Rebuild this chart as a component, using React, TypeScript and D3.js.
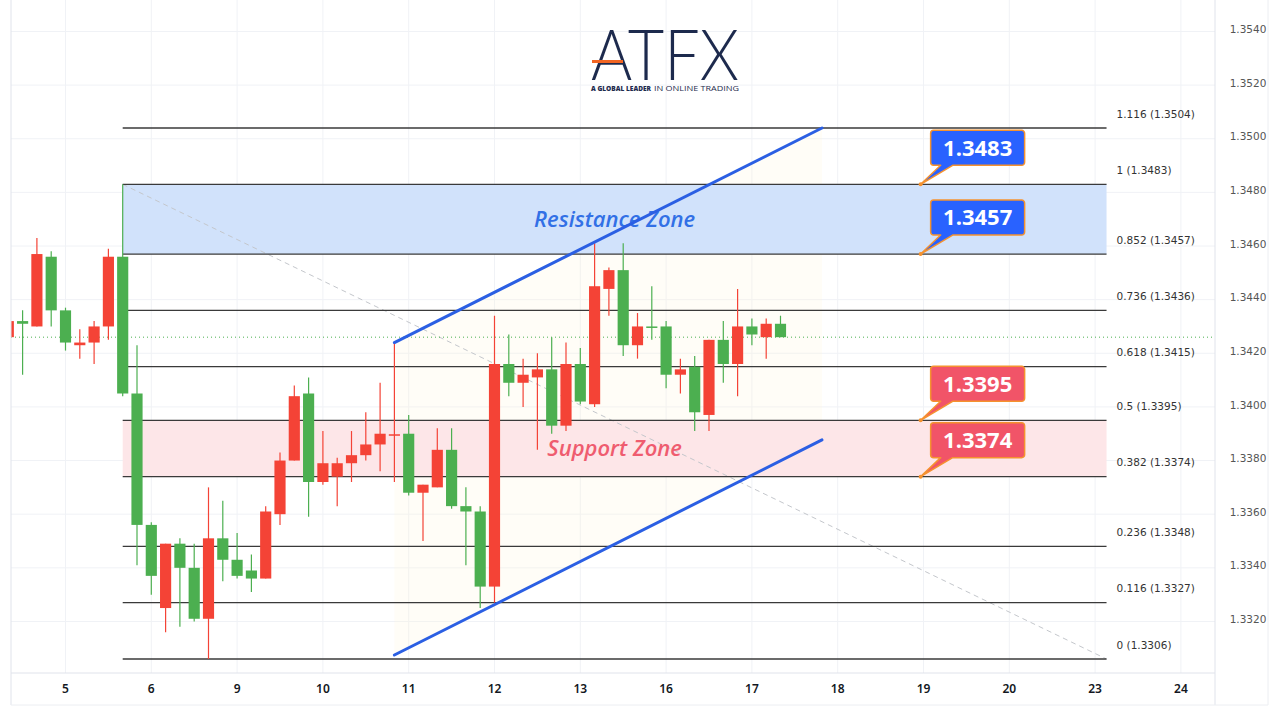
import React from 'react';
import * as d3 from 'd3';

// 4H candles (bar index 0 = last visible bar of day 4)
const opens = [1.3426, 1.3432, 1.3430, 1.3456, 1.3436, 1.3423, 1.3424, 1.3430, 1.3456, 1.3405,
  1.3356, 1.3325, 1.3349, 1.3340, 1.3321, 1.3351, 1.3343, 1.3339, 1.3336, 1.3360,
  1.3380, 1.3405, 1.3372, 1.3374, 1.3379, 1.3382, 1.3386, 1.33893, 1.3390, 1.3368,
  1.3370, 1.3384, 1.3363, 1.3361, 1.3333, 1.3416, 1.3409, 1.3411, 1.3414, 1.3393,
  1.3416, 1.3401, 1.3444, 1.3451, 1.3423, 1.3430, 1.3430, 1.3412, 1.3415, 1.3397,
  1.3425, 1.3416, 1.3430, 1.3426, 1.3431];
const highs = [1.3432, 1.3436, 1.3463, 1.3458, 1.3437, 1.3429, 1.3432, 1.3459, 1.3483, 1.3423,
  1.3357, 1.3349, 1.3351, 1.3349, 1.3370, 1.3365, 1.3353, 1.3345, 1.3363, 1.3383,
  1.3408, 1.3411, 1.3391, 1.3381, 1.3391, 1.3398, 1.3409, 1.3424, 1.3397, 1.3371,
  1.3392, 1.3392, 1.3370, 1.3363, 1.3434, 1.3427, 1.3418, 1.3420, 1.3426, 1.3424,
  1.3422, 1.3461, 1.3452, 1.3461, 1.3435, 1.3445, 1.3432, 1.3418, 1.3419, 1.3425,
  1.3432, 1.3444, 1.3433, 1.3433, 1.3434];
const lows = [1.3426, 1.3412, 1.3430, 1.3430, 1.3421, 1.3418, 1.3416, 1.3425, 1.3404, 1.3341,
  1.3330, 1.3316, 1.3318, 1.3320, 1.3306, 1.3335, 1.3336, 1.3331, 1.3336, 1.3356,
  1.3380, 1.3359, 1.3371, 1.3363, 1.3372, 1.3380, 1.3376, 1.3372, 1.3367, 1.3350,
  1.3370, 1.3362, 1.3341, 1.3325, 1.3327, 1.3404, 1.3400, 1.3384, 1.3390, 1.3391,
  1.3401, 1.3400, 1.3434, 1.3419, 1.3418, 1.3425, 1.3407, 1.3405, 1.3391, 1.3391,
  1.3409, 1.3404, 1.3423, 1.3418, 1.3426];
const closes = [1.3432, 1.3431, 1.3457, 1.3436, 1.3424, 1.3424, 1.3430, 1.3456, 1.3405, 1.3356,
  1.3337, 1.3349, 1.3340, 1.3321, 1.3351, 1.3343, 1.3337, 1.3336, 1.3361, 1.3380,
  1.3404, 1.3372, 1.3379, 1.3379, 1.3382, 1.3386, 1.3390, 1.33898, 1.3368, 1.3371,
  1.3384, 1.3363, 1.3361, 1.3333, 1.3416, 1.3409, 1.3412, 1.3414, 1.3393, 1.3416,
  1.3402, 1.3445, 1.3451, 1.3423, 1.3430, 1.34295, 1.3412, 1.3414, 1.3398, 1.3425,
  1.3416, 1.3430, 1.3427, 1.3431, 1.3426];

const dayLabels = ['5', '6', '9', '10', '11', '12', '13', '16', '17', '18', '19', '20', '23', '24'];
const firstDayBar = 4;
const barsPerDay = 6;

const priceTicks = [1.332, 1.334, 1.336, 1.338, 1.34, 1.342, 1.344, 1.346, 1.348, 1.35, 1.352, 1.354];
const lastPrice = 1.3426;

const fibRatios = ['0', '0.116', '0.236', '0.382', '0.5', '0.618', '0.736', '0.852', '1', '1.116'];
const fibPrices = [1.3306, 1.3327, 1.3348, 1.3374, 1.3395, 1.3415, 1.3436, 1.3457, 1.3483, 1.3504];
const fibBars = [8, 76.8];
const fibTrendPrices = [1.3483, 1.3306];

const resistanceZone = [1.3457, 1.3483];
const supportZone = [1.3374, 1.3395];
const zoneTextBar = 42.4;

const channelBars = [27, 56.9];
const channelUpper = [1.3424, 1.3504];
const channelLower = [1.33075, 1.33877];

const calloutBar = 63.8;
const calloutPrices = [1.3483, 1.3457, 1.3395, 1.3374];
const calloutKinds = ['res', 'res', 'sup', 'sup'];

const UP = '#f44336';
const DOWN = '#4caf50';

export default function App() {
  const W = 1280;
  const H = 720;
  const paneLeft = 11;
  const paneRight = 1215;
  const paneBottom = 673;
  const axisBottom = 705;
  const frameRight = 1268;

  const x = d3.scaleLinear().domain([4, 82]).range([65.5, 1180.9]);
  const y = d3.scaleLinear().domain([1.3306, 1.3504]).range([659, 128]);
  const step = x(1) - x(0);
  const bodyW = step * 0.78;

  const fmt = d3.format('.4f');
  const line = d3.line<[number, number]>().x((d) => x(d[0])).y((d) => y(d[1]));

  const fibX0 = x(fibBars[0]);
  const fibX1 = x(fibBars[1]);

  const channelFill =
    `M${x(channelBars[0])},${y(channelUpper[0])} L${x(channelBars[1])},${y(channelUpper[1])} ` +
    `L${x(channelBars[1])},${y(channelLower[1])} L${x(channelBars[0])},${y(channelLower[0])} Z`;

  const calloutPath = (ax: number, ay: number) => {
    const L = ax + 10;
    const R = L + 94;
    const B = ay - 19;
    const T = B - 35;
    const r = 3;
    return `M${L + r},${T} H${R - r} A${r},${r} 0 0 1 ${R},${T + r} V${B - r} A${r},${r} 0 0 1 ${R - r},${B} ` +
      `H${L + 22} L${ax},${ay} L${L + 10},${B} H${L + r} A${r},${r} 0 0 1 ${L},${B - r} V${T + r} A${r},${r} 0 0 1 ${L + r},${T} Z`;
  };

  return (
    <div style={{ position: 'absolute', left: 0, top: 0 }}>
      <svg width={W} height={H} style={{ display: 'block', background: '#ffffff' }}>
        <defs>
          <clipPath id="pane">
            <rect x={paneLeft} y={0} width={paneRight - paneLeft} height={paneBottom} />
          </clipPath>
        </defs>

        {/* grid */}
        <g>
          {priceTicks.map((t) => (
            <line key={'h' + t} x1={paneLeft} x2={paneRight} y1={y(t)} y2={y(t)} stroke="#f0f2f6" strokeWidth={1} />
          ))}
          {dayLabels.map((d, i) => {
            const xx = x(firstDayBar + i * barsPerDay);
            return <line key={'v' + d} x1={xx} x2={xx} y1={0} y2={paneBottom} stroke="#f0f2f6" strokeWidth={1} />;
          })}
        </g>

        <g clipPath="url(#pane)">
          {/* channel fill */}
          <path d={channelFill} fill="#fff6dc" fillOpacity={0.22} />

          {/* zones */}
          <rect x={fibX0} width={fibX1 - fibX0} y={y(resistanceZone[1])} height={y(resistanceZone[0]) - y(resistanceZone[1])} fill="#d1e2fb" />
          <rect x={fibX0} width={fibX1 - fibX0} y={y(supportZone[1])} height={y(supportZone[0]) - y(supportZone[1])} fill="#fde6e8" />

          {/* fib trend line */}
          <path d={line([[fibBars[0], fibTrendPrices[0]], [fibBars[1], fibTrendPrices[1]]]) || ''} stroke="#c4c7cc" strokeWidth={1} strokeDasharray="5,4" fill="none" />

          {/* fib levels */}
          {fibPrices.map((p, i) => (
            <line key={'f' + i} x1={fibX0} x2={fibX1} y1={y(p)} y2={y(p)} stroke="#3a3a3a" strokeWidth={1.3} />
          ))}

          {/* zone texts */}
          <text x={x(zoneTextBar)} y={y((resistanceZone[0] + resistanceZone[1]) / 2)} dy="0.35em" textAnchor="middle"
            fontFamily="'Open Sans', sans-serif" fontStyle="italic" fontWeight={600} fontSize={22} fill="#3270e6">Resistance Zone</text>
          <text x={x(zoneTextBar)} y={y((supportZone[0] + supportZone[1]) / 2)} dy="0.35em" textAnchor="middle"
            fontFamily="'Open Sans', sans-serif" fontStyle="italic" fontWeight={600} fontSize={22} fill="#ef5c6f">Support Zone</text>

          {/* last price line */}
          <line x1={paneLeft} x2={paneRight} y1={y(lastPrice)} y2={y(lastPrice)} stroke={DOWN} strokeWidth={1} strokeDasharray="1,3" />

          {/* candles */}
          {opens.map((o, i) => {
            const c = closes[i];
            const up = c >= o;
            const col = up ? UP : DOWN;
            const cx = x(i);
            const top = y(Math.max(o, c));
            const bot = y(Math.min(o, c));
            const h = Math.max(1.5, bot - top);
            return (
              <g key={'c' + i}>
                <line x1={cx} x2={cx} y1={y(highs[i])} y2={y(lows[i])} stroke={col} strokeWidth={1.2} />
                <rect x={cx - bodyW / 2} y={top} width={bodyW} height={h} fill={col} />
              </g>
            );
          })}

          {/* channel lines */}
          <path d={line([[channelBars[0], channelUpper[0]], [channelBars[1], channelUpper[1]]]) || ''} stroke="#2b5fe3" strokeWidth={3} fill="none" strokeLinecap="round" />
          <path d={line([[channelBars[0], channelLower[0]], [channelBars[1], channelLower[1]]]) || ''} stroke="#2b5fe3" strokeWidth={3} fill="none" strokeLinecap="round" />
        </g>

        {/* fib labels */}
        {fibPrices.map((p, i) => (
          <text key={'fl' + i} x={fibX1 + 10} y={y(p) - 14} dy="0.35em" fontFamily="'DejaVu Sans', sans-serif" fontSize={10.5} fill="#333">
            {`${fibRatios[i]} (${fmt(p)})`}
          </text>
        ))}

        {/* callouts */}
        {calloutPrices.map((p, i) => {
          const ax = x(calloutBar);
          const ay = y(p);
          const fill = calloutKinds[i] === 'res' ? '#2962ff' : '#f15468';
          return (
            <g key={'co' + i}>
              <path d={calloutPath(ax, ay)} fill={fill} stroke="#f5922f" strokeWidth={1.5} strokeLinejoin="round" />
              <circle cx={ax} cy={ay} r={2} fill="#f5922f" />
              <text x={ax + 10 + 47} y={ay - 19 - 17.5} dy="0.36em" textAnchor="middle" fontFamily="'Open Sans', sans-serif"
                fontWeight={700} fontSize={22} fill="#ffffff">{fmt(p)}</text>
            </g>
          );
        })}

        {/* frame & axes */}
        <line x1={paneLeft} x2={paneLeft} y1={0} y2={axisBottom} stroke="#e0e3eb" />
        <line x1={paneRight} x2={paneRight} y1={0} y2={axisBottom} stroke="#e0e3eb" />
        <line x1={frameRight} x2={frameRight} y1={0} y2={axisBottom} stroke="#eceef2" />
        <line x1={paneLeft} x2={paneRight} y1={paneBottom} y2={paneBottom} stroke="#e0e3eb" />
        <line x1={paneLeft} x2={frameRight} y1={axisBottom} y2={axisBottom} stroke="#eceef2" />

        {priceTicks.map((t) => (
          <text key={'pt' + t} x={1248} y={y(t) - 2} dy="0.35em" textAnchor="middle" fontFamily="'DejaVu Sans', sans-serif" fontSize={10.5} fill="#555">
            {fmt(t)}
          </text>
        ))}

        {dayLabels.map((d, i) => (
          <text key={'dl' + d} x={x(firstDayBar + i * barsPerDay)} y={689} dy="0.35em" textAnchor="middle"
            fontFamily="'Noto Sans', sans-serif" fontWeight={600} fontSize={12} fill="#131722">{d}</text>
        ))}

        {/* logo */}
        <g>
          <text x={665} y={80} textAnchor="middle" fontFamily="Lato, sans-serif" fontWeight={300} fontSize={70}
            fill="#1d2a4d" textLength={148} lengthAdjust="spacingAndGlyphs">ATFX</text>
          <rect x={592} y={60} width={31} height={3} fill="#f26522" />
          <text x={591} y={91} fontFamily="'Open Sans', sans-serif" fontSize={7} fontWeight={800} fill="#1d2a4d"
            textLength={60} lengthAdjust="spacingAndGlyphs">A GLOBAL LEADER</text>
          <text x={654} y={91} fontFamily="'Open Sans', sans-serif" fontSize={7} fill="#1d2a4d"
            textLength={85} lengthAdjust="spacingAndGlyphs">IN ONLINE TRADING</text>
        </g>
      </svg>
    </div>
  );
}
